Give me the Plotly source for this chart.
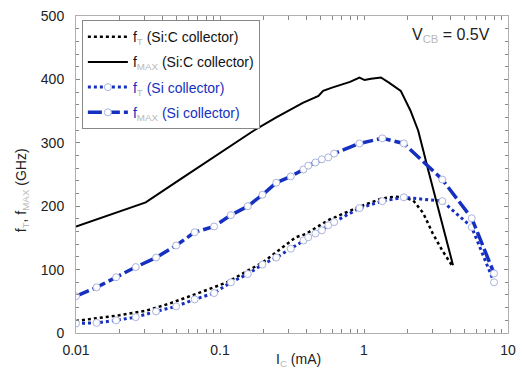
import plotly.graph_objects as go

# ---- data ----
# Si:C collector
sic_ft_ic = [0.01, 0.02, 0.0305, 0.044, 0.073, 0.112, 0.2, 0.336, 0.393, 0.565, 0.904, 1.32, 1.62, 1.89, 2.2, 2.58, 3.0, 3.5, 4.15]
sic_ft = [19, 28, 35, 46, 64, 80, 112, 151, 156, 178, 198, 212, 215, 214, 209, 189, 157, 130, 104]

sic_fmax_ic = [0.01, 0.0305, 0.051, 0.171, 0.246, 0.376, 0.483, 0.52, 0.60, 0.66, 0.80, 0.93, 1.01, 1.12, 1.31, 1.49, 1.8, 2.1, 2.38, 2.58, 2.8, 4.15]
sic_fmax = [168, 206, 240, 319, 340, 363, 374, 382, 387, 390, 396, 403, 399, 401, 403, 395, 382, 351, 319, 288, 256, 107]

# Si collector
si_ic = [0.01, 0.0139, 0.019, 0.026, 0.036, 0.0496, 0.0667, 0.091, 0.119, 0.156, 0.197, 0.246, 0.31, 0.38, 0.41, 0.46, 0.51, 0.565, 0.62, 0.93, 1.34, 1.89, 3.5, 5.6, 8.0]
si_ft = [15, 16, 20, 25, 34, 42, 53, 63, 80, 93, 108, 119, 133, 146, 151, 157, 162, 170, 175, 197, 208, 214, 208, 167, 80]
si_fmax = [58, 72, 88, 104, 119, 138, 159, 168, 186, 200, 218, 237, 247, 258, 264, 269, 274, 277, 283, 299, 307, 299, 242, 181, 94]

x_tickvals = [0.01, 0.02, 0.03, 0.04, 0.05, 0.06, 0.07, 0.08, 0.09,
              0.1, 0.2, 0.3, 0.4, 0.5, 0.6, 0.7, 0.8, 0.9,
              1, 2, 3, 4, 5, 6, 7, 8, 9, 10]
x_ticktext = ["0.01", "", "", "", "", "", "", "", "",
              "0.1", "", "", "", "", "", "", "", "",
              "1", "", "", "", "", "", "", "", "", "10"]

BLUE = "#1530c0"
SUBC = "#b8b8b8"
FONT = "Liberation Sans, Arial, sans-serif"

def sub(t):
    return f"<sub><span style='color:{SUBC}'>{t}</span></sub>"

fig = go.Figure()
fig.add_trace(go.Scatter(
    x=sic_ft_ic, y=sic_ft, mode="lines", legendgroup="a",
    name=f"f{sub('T')} (Si:C collector)",
    line=dict(color="black", width=2.5, dash="dot")))
fig.add_trace(go.Scatter(
    x=sic_fmax_ic, y=sic_fmax, mode="lines", legendgroup="b",
    name=f"f{sub('MAX')} (Si:C collector)",
    line=dict(color="black", width=2)))
fig.add_trace(go.Scatter(
    x=si_ic, y=si_ft, mode="lines+markers", legendgroup="c",
    name=f"<span style='color:{BLUE}'>f</span>{sub('T')}<span style='color:{BLUE}'> (Si collector)</span>",
    line=dict(color=BLUE, width=3, dash="dot"),
    marker=dict(symbol="circle", size=7, color="white", line=dict(color="#aab4dd", width=1))))
fig.add_trace(go.Scatter(
    x=si_ic, y=si_fmax, mode="lines+markers", legendgroup="d",
    name=f"<span style='color:{BLUE}'>f</span>{sub('MAX')}<span style='color:{BLUE}'> (Si collector)</span>",
    line=dict(color=BLUE, width=3.5, dash="14px,4px"),
    marker=dict(symbol="circle", size=7, color="white", line=dict(color="#aab4dd", width=1))))

axis_common = dict(
    showline=True, linecolor="#b0b0b0", linewidth=1, mirror="allticks",
    ticks="inside", tickcolor="#888", ticklen=4, tickwidth=1,
    showgrid=False, zeroline=False,
    tickfont=dict(family=FONT, size=14, color="#222"),
)

fig.update_xaxes(type="log", range=[-2, 1], tickmode="array",
                 tickvals=x_tickvals, ticktext=x_ticktext,
                 ticklabelstandoff=4, **axis_common)
fig.update_yaxes(range=[0, 500], tickmode="linear", tick0=0, dtick=100,
                 minor=dict(dtick=20, ticks="inside", ticklen=3, tickcolor="#888"),
                 ticklabelstandoff=8, **axis_common)

fig.add_annotation(text=f"f{sub('T')}, f{sub('MAX')} (GHz)", textangle=-90,
                   xref="paper", yref="paper", x=-0.125, y=0.45,
                   xanchor="center", yanchor="middle",
                   showarrow=False, font=dict(family=FONT, size=14, color="#222"))
fig.add_annotation(text=f"I{sub('C')} (mA)", xref="paper", yref="paper",
                   x=0.514, y=-0.085, xanchor="center", yanchor="middle", showarrow=False,
                   font=dict(family=FONT, size=14, color="#222"))
fig.add_annotation(text=f"V{sub('CB')} = 0.5V", xref="paper", yref="paper",
                   x=0.867, y=0.937, xanchor="center", yanchor="middle", showarrow=False,
                   font=dict(family=FONT, size=16, color="#222"))

fig.update_layout(
    width=524, height=371,
    margin=dict(l=76, r=8, t=15, b=38),
    paper_bgcolor="white", plot_bgcolor="white",
    font=dict(family=FONT, size=14, color="#222"),
    showlegend=True,
    legend=dict(x=0.0136, y=0.987, xanchor="left", yanchor="top",
                bgcolor="white", bordercolor="#888", borderwidth=1,
                font=dict(family=FONT, size=14, color="#111"),
                tracegroupgap=4, itemwidth=40),
)

fig.write_html("out.html", config={"displayModeBar": False},
               post_script="document.body.style.margin='0';")
